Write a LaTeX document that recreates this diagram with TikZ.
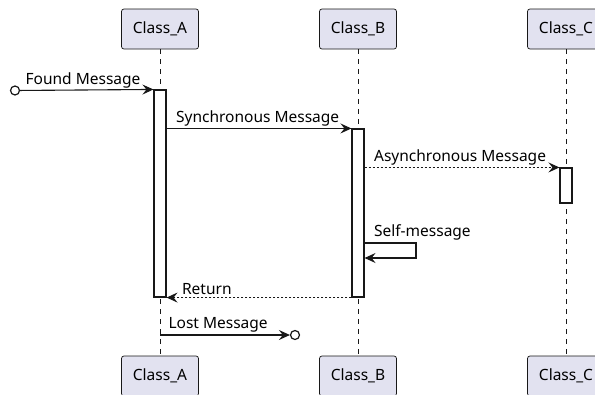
\documentclass[tikz,border=0pt]{standalone}
\usepackage{fontspec}
\setmainfont{Noto Sans}
\usetikzlibrary{arrows.meta,positioning,calc}
\definecolor{HeadFill}{HTML}{E2E2F0}
\definecolor{LineGray}{HTML}{181818}
\tikzset{
  classhead/.style={draw=LineGray,fill=HeadFill,rounded corners=2.5pt,minimum height=40pt,minimum width=77pt,font=\fontsize{15.5}{18}\selectfont,line width=0.7pt},
  lifeline/.style={dash pattern=on 5pt off 5pt,draw=LineGray,line width=0.7pt},
  actbar/.style={draw=LineGray,fill=white,minimum width=12pt,inner sep=0pt,line width=1.1pt},
  syncmsg/.style={-{Stealth[length=11pt,width=10pt,inset=4pt]},draw=LineGray,line width=1.1pt},
  asyncmsg/.style={syncmsg,dash pattern=on 2pt off 2pt},
  msglabel/.style={font=\fontsize{15.5}{17}\selectfont,inner sep=0pt,anchor=south west},
  endpoint/.style={circle,draw=LineGray,fill=white,line width=1.2pt,minimum size=9pt,inner sep=0pt}
}
\begin{document}
\begin{tikzpicture}[x=1pt,y=-1pt]
\useasboundingbox (0,0) rectangle (595,394);
% participants
\node[classhead] (A) at (160,29) {Class\_A};
\node[classhead] (B) at (358,29) {Class\_B};
\node[classhead] (C) at (566,29) {Class\_C};
\node[classhead] (Ab) at (160,376) {Class\_A};
\node[classhead] (Bb) at (358,376) {Class\_B};
\node[classhead] (Cb) at (566,376) {Class\_C};
\draw[lifeline] (A) -- (Ab);
\draw[lifeline] (B) -- (Bb);
\draw[lifeline] (C) -- (Cb);
% activations
\node[actbar,minimum height=207pt] (actA) at (160,193.5) {};
\node[actbar,minimum height=168pt] (actB) at (358,213) {};
\node[actbar,minimum height=35pt] (actC) at (566,185.5) {};
% messages
\node[endpoint] (found) at (15,90.5) {};
\draw[syncmsg] (found) -- node[msglabel,at start,xshift=5pt,yshift=2pt] {Found Message} (actA.north west);
\draw[syncmsg] (actA.east |- actB.north) -- node[msglabel,at start,xshift=9pt,yshift=2pt] {Synchronous Message} (actB.north west);
\draw[asyncmsg] (actB.east |- actC.north) -- node[msglabel,at start,xshift=9pt,yshift=2pt] {Asynchronous Message} (actC.north west);
\coordinate (selfout) at (416,243);
\coordinate (selfback) at (416,258);
\draw[syncmsg] (actB.east |- selfout) -- node[msglabel,at start,xshift=9pt,yshift=2pt] {Self-message} (selfout) -- (selfback) -- (actB.east |- selfback);
\draw[asyncmsg] (actB.south west) -- node[msglabel,at end,xshift=15pt,yshift=2pt] {Return} (actA.south east);
\node[endpoint] (lost) at (295,335) {};
\draw[syncmsg] (A |- lost) -- node[msglabel,at start,xshift=8pt,yshift=2pt] {Lost Message} (lost);
\end{tikzpicture}
\end{document}
